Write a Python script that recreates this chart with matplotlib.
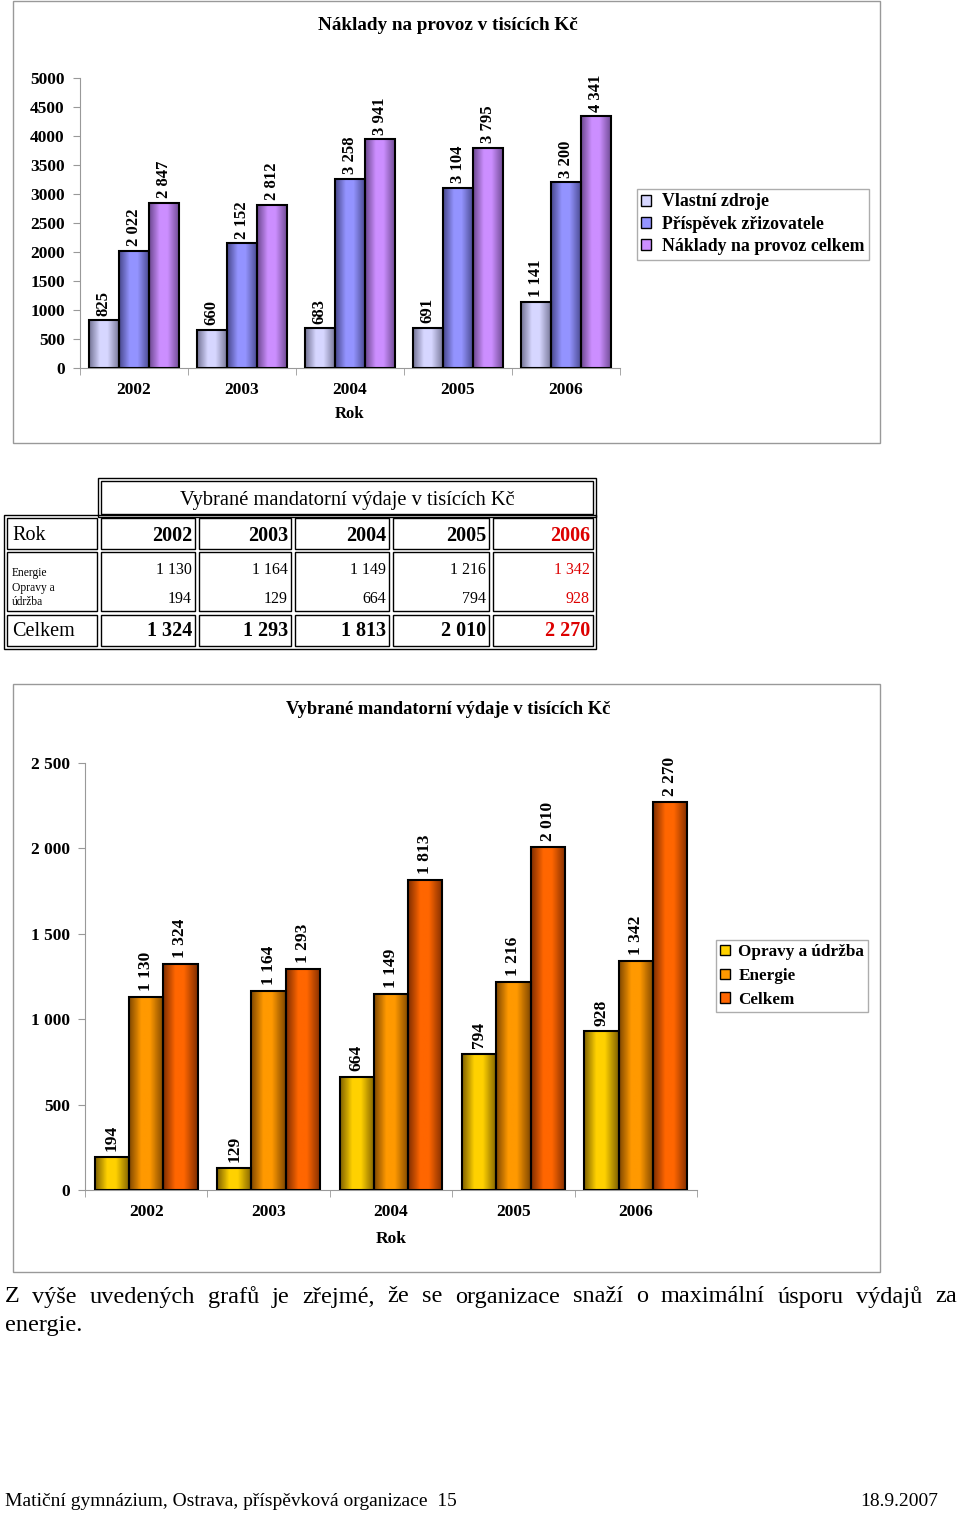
import matplotlib
matplotlib.use("Agg")
import matplotlib.pyplot as plt
import numpy as np
from matplotlib.patches import Patch, Rectangle
from matplotlib.colors import LinearSegmentedColormap

plt.rcParams['font.family'] = ['Liberation Serif', 'DejaVu Serif']

# data
years = ['2002', '2003', '2004', '2005', '2006']
vlastni = [825, 660, 683, 691, 1141]
prispevek = [2022, 2152, 3258, 3104, 3200]
naklady = [2847, 2812, 3941, 3795, 4341]
names1 = ['Vlastní zdroje', 'Příspěvek zřizovatele', 'Náklady na provoz celkem']

energie = [1130, 1164, 1149, 1216, 1342]
opravy = [194, 129, 664, 794, 928]
celkem = [1324, 1293, 1813, 2010, 2270]
names2 = ['Opravy a údržba', 'Energie', 'Celkem']

W, H = 960, 1513


def box(x0, y0, x1, y1):
    return [x0 / W, 1 - y1 / H, (x1 - x0) / W, (y1 - y0) / H]


def fmt(v):
    return f"{v:,}".replace(',', ' ')


def grad_bars(ax, xs, vals, width, light, dark):
    cmap = LinearSegmentedColormap.from_list('g', [(0, dark), (0.35, light), (0.6, light), (1, dark)])
    bars = ax.bar(xs, vals, width, color=light, edgecolor='none', zorder=2)
    grad = np.linspace(0, 1, 64).reshape(1, -1)
    for b in bars:
        x0, w, h = b.get_x(), b.get_width(), b.get_height()
        im = ax.imshow(grad, cmap=cmap, extent=(x0, x0 + w, 0, h), aspect='auto', zorder=3)
        im.set_clip_path(b)
    ax.bar(xs, vals, width, fill=False, edgecolor='black', linewidth=1.5, zorder=4)


def style_axes(ax, ymax, step, ylabels):
    ax.set_xlim(-0.5, 4.5)
    ax.set_ylim(0, ymax)
    for s in ['top', 'right']:
        ax.spines[s].set_visible(False)
    ax.spines['left'].set_color('#999999')
    ax.spines['bottom'].set_color('#999999')
    ax.set_yticks(np.arange(0, ymax + 1, step))
    ax.set_yticklabels(ylabels, fontsize=12.5, fontweight='bold')
    ax.tick_params(axis='y', length=5, color='#999999', pad=6)
    ax.set_xticks(range(5))
    ax.set_xticklabels(years, fontsize=12.5, fontweight='bold')
    ax.tick_params(axis='x', length=0, pad=10)
    ax.set_xticks(np.arange(-0.5, 5, 1), minor=True)
    ax.tick_params(axis='x', which='minor', length=5, color='#999999')
    ax.patch.set_alpha(0)


fig = plt.figure(figsize=(9.6, 15.13), dpi=100)

# overlay for frames, table and page text
bg = fig.add_axes([0, 0, 1, 1])
bg.set_xlim(0, W)
bg.set_ylim(H, 0)
bg.axis('off')
bg.add_patch(Rectangle((13, 1), 867, 442, fill=False, edgecolor='#999999', lw=1))
bg.add_patch(Rectangle((13, 684), 867, 588, fill=False, edgecolor='#999999', lw=1))

# chart 1
ax1 = fig.add_axes(box(80, 78, 620, 368))
x = np.arange(5)
bw = 0.28
c1 = [((0.84, 0.84, 1.0), (0.45, 0.45, 0.58)),
      ((0.58, 0.58, 1.0), (0.28, 0.28, 0.55)),
      ((0.80, 0.56, 1.0), (0.42, 0.28, 0.56))]
for i, vals in enumerate([vlastni, prispevek, naklady]):
    xs = x + (i - 1) * bw
    grad_bars(ax1, xs, vals, bw, *c1[i])
    for xi, v in zip(xs, vals):
        ax1.text(xi, v + 80, fmt(v), rotation=90, ha='center', va='bottom',
                 fontsize=12, fontweight='bold')
style_axes(ax1, 5000, 500, [str(v) for v in range(0, 5001, 500)])
ax1.set_xlabel('Rok', fontsize=12, fontweight='bold', labelpad=6)
fig.text(448 / W, 1 - 26 / H, 'Náklady na provoz v tisících Kč', ha='center', va='center',
         fontsize=13.8, fontweight='bold')
fig.legend(handles=[Patch(facecolor=c[0], edgecolor='black') for c in c1], labels=names1,
           loc='upper left', bbox_to_anchor=(637 / W, 1 - 189 / H), frameon=True, fancybox=False,
           edgecolor='#999999', prop={'size': 12.8, 'weight': 'bold'}, handlelength=0.55,
           handleheight=0.55, handletextpad=0.6, labelspacing=0.3, borderpad=0.25, borderaxespad=0)

# chart 2
ax2 = fig.add_axes(box(85, 763, 697, 1190))
c2 = [((1.0, 0.82, 0.0), (0.50, 0.38, 0.0)),
      ((1.0, 0.60, 0.0), (0.50, 0.28, 0.0)),
      ((1.0, 0.40, 0.0), (0.50, 0.18, 0.0))]
for i, vals in enumerate([opravy, energie, celkem]):
    xs = x + (i - 1) * bw
    grad_bars(ax2, xs, vals, bw, *c2[i])
    for xi, v in zip(xs, vals):
        ax2.text(xi, v + 35, fmt(v), rotation=90, ha='center', va='bottom',
                 fontsize=12.5, fontweight='bold')
style_axes(ax2, 2500, 500, [fmt(v) for v in range(0, 2501, 500)])
ax2.set_xlabel('Rok', fontsize=12.5, fontweight='bold', labelpad=8)
fig.text(448 / W, 1 - 710 / H, 'Vybrané mandatorní výdaje v tisících Kč', ha='center', va='center',
         fontsize=13.3, fontweight='bold')
fig.legend(handles=[Patch(facecolor=c[0], edgecolor='black') for c in c2], labels=names2,
           loc='upper left', bbox_to_anchor=(716 / W, 1 - 940 / H), frameon=True, fancybox=False,
           edgecolor='#999999', prop={'size': 12.3, 'weight': 'bold'}, handlelength=0.55,
           handleheight=0.55, handletextpad=0.5, labelspacing=0.45, borderpad=0.25, borderaxespad=0)

# table
def cell(x0, y0, x1, y1):
    bg.add_patch(Rectangle((x0, y0), x1 - x0, y1 - y0, fill=False, edgecolor='black', lw=1))

bg.add_patch(Rectangle((98, 478), 498, 39, fill=False, edgecolor='black', lw=1))
bg.add_patch(Rectangle((4, 515), 592, 134, fill=False, edgecolor='black', lw=1))
cols = [(7, 97), (101, 195), (199, 291), (295, 389), (393, 489), (493, 593)]
rows = [(518, 549), (552, 611), (615, 646)]
cell(101, 481, 593, 514)
for cx0, cx1 in cols:
    for ry0, ry1 in rows:
        cell(cx0, ry0, cx1, ry1)
bg.text(347, 501, 'Vybrané mandatorní výdaje v tisících Kč', ha='center', va='center', fontsize=14.8)
bg.text(12, 536, 'Rok', ha='left', va='center', fontsize=14.5)
bg.text(12, 573, 'Energie', ha='left', va='center', fontsize=8.3)
bg.text(12, 595, 'Opravy a\núdržba', ha='left', va='center', fontsize=8.3, linespacing=1.25)
bg.text(12, 631, 'Celkem', ha='left', va='center', fontsize=14.5)
for j, (cx0, cx1) in enumerate(cols[1:]):
    col = '#dd0000' if j == 4 else 'black'
    bg.text(cx1 - 3, 536, years[j], ha='right', va='center', fontsize=14.5, fontweight='bold', color=col)
    bg.text(cx1 - 3, 570, fmt(energie[j]), ha='right', va='center', fontsize=11.5, color=col)
    bg.text(cx1 - 3, 599, fmt(opravy[j]), ha='right', va='center', fontsize=11.5, color=col)
    bg.text(cx1 - 3, 631, fmt(celkem[j]), ha='right', va='center', fontsize=14.5, fontweight='bold', color=col)

# page text, first line justified
sentence = 'Z výše uvedených grafů je zřejmé, že se organizace snaží o maximální úsporu výdajů za'
words = sentence.split()
wt = [bg.text(0, 1297, w, ha='left', va='center', fontsize=17.5) for w in words]
fig.canvas.draw()
r = fig.canvas.get_renderer()
widths = [t.get_window_extent(r).width for t in wt]
gap = (957 - 5 - sum(widths)) / (len(words) - 1)
xpos = 5
for t, w in zip(wt, widths):
    t.set_x(xpos)
    xpos += w + gap
bg.text(5, 1325, 'energie.', ha='left', va='center', fontsize=17.5)
bg.text(5, 1501, 'Matiční gymnázium, Ostrava, příspěvková organizace  15', ha='left', va='center', fontsize=14)
bg.text(938, 1501, '18.9.2007', ha='right', va='center', fontsize=14)

fig.savefig('out.png', dpi=100)
